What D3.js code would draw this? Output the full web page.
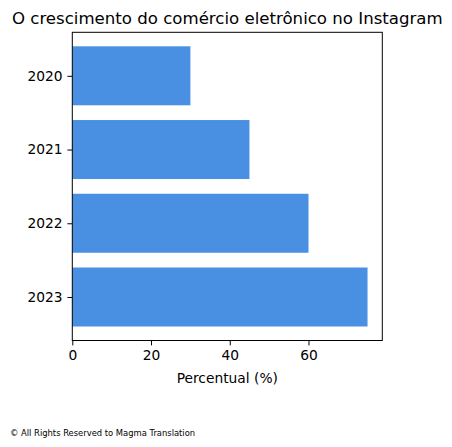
<!DOCTYPE html>
<html lang="en">
<head>
    <meta charset="UTF-8">
    <script src="https://cdnjs.cloudflare.com/ajax/libs/d3/7.8.5/d3.min.js"></script>
    <style>
        body { margin: 0; background: #fff; }
        svg text { font-family: "DejaVu Sans", sans-serif; fill: #000; }
    </style>
</head>
<body>
    <svg id="chart" width="452" height="447"></svg>
    <script>
        const years = ["2020", "2021", "2022", "2023"];
        const percentages = [30, 45, 60, 75];
        const xTicks = [0, 20, 40, 60];

        const svg = d3.select("#chart");
        const plotLeft = 72.3, plotRight = 382.3, plotTop = 32.3, plotBottom = 340.5;

        // matplotlib-like limits: 5% margin
        const xScale = d3.scaleLinear().domain([0, 75 * 1.05]).range([plotLeft, plotRight]);
        const yScale = d3.scaleLinear().domain([-0.59, 3.59]).range([plotTop, plotBottom]);

        svg.selectAll("rect.bar")
            .data(years)
            .enter()
            .append("rect")
            .attr("class", "bar")
            .attr("x", xScale(0))
            .attr("y", (d, i) => yScale(i - 0.4))
            .attr("width", (d, i) => xScale(percentages[i]) - xScale(0))
            .attr("height", yScale(0.8) - yScale(0))
            .attr("fill", "#4a90e2");

        // frame
        svg.append("rect")
            .attr("x", plotLeft).attr("y", plotTop)
            .attr("width", plotRight - plotLeft).attr("height", plotBottom - plotTop)
            .attr("fill", "none").attr("stroke", "#000").attr("stroke-width", 1);

        let xAxis = d3.axisBottom(xScale).tickValues(xTicks).tickSize(4.9).tickPadding(4.9);
        svg.append("g")
            .attr("transform", `translate(0,${plotBottom})`)
            .call(xAxis)
            .call(g => g.select(".domain").remove())
            .call(g => g.selectAll("text").attr("font-size", "13.8px").style("font-family", "DejaVu Sans"));

        let yAxis = d3.axisLeft(yScale).tickValues([0, 1, 2, 3])
            .tickFormat(i => years[i]).tickSize(4.9).tickPadding(4.9);
        svg.append("g")
            .attr("transform", `translate(${plotLeft},0)`)
            .call(yAxis)
            .call(g => g.select(".domain").remove())
            .call(g => g.selectAll("text").attr("font-size", "13.8px").style("font-family", "DejaVu Sans"));

        svg.append("text")
            .attr("x", (plotLeft + plotRight) / 2).attr("y", 383)
            .attr("text-anchor", "middle")
            .attr("font-size", "13.8px")
            .text("Percentual (%)");

        svg.append("text")
            .attr("x", (plotLeft + plotRight) / 2).attr("y", 24)
            .attr("text-anchor", "middle")
            .attr("font-size", "16.6px")
            .text("O crescimento do comércio eletrônico no Instagram");

        svg.append("text")
            .attr("x", 10).attr("y", 436)
            .attr("font-size", "8.4px")
            .text("© All Rights Reserved to Magma Translation");
    </script>
</body>
</html>
